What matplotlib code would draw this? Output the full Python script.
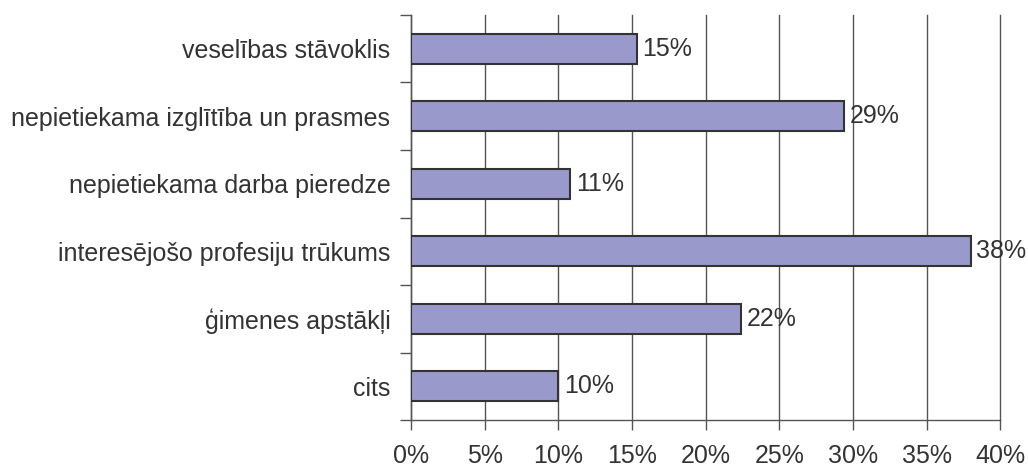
import matplotlib.pyplot as plt
import matplotlib.ticker as mtick
import numpy as np

plt.rcParams['font.family'] = ['Liberation Sans', 'DejaVu Sans']

categories = ['veselības stāvoklis', 'nepietiekama izglītība un prasmes',
              'nepietiekama darba pieredze', 'interesējošo profesiju trūkums',
              'ģimenes apstākļi', 'cits']
values = [15.3, 29.4, 10.8, 38.0, 22.4, 10.0]
value_labels = ['15%', '29%', '11%', '38%', '22%', '10%']
xticks = [0, 5, 10, 15, 20, 25, 30, 35, 40]

text_color = '#333333'
fs = 18

fig = plt.figure(figsize=(10.28, 4.67), dpi=100)
ax = fig.add_axes([0.4, 0.1006, 0.5730, 0.8673])

y = np.arange(len(categories))
ax.barh(y, values, height=0.45, color='#9999CC', edgecolor='#333333',
        linewidth=1.5, zorder=3)

for yi, v, lab in zip(y, values, value_labels):
    ax.annotate(lab, (v, yi), xytext=(4, 0), textcoords='offset points',
                va='center', ha='left', fontsize=fs, color=text_color, zorder=4)

ax.set_ylim(len(categories) - 0.5, -0.5)
ax.set_xlim(0, 40)

ax.set_yticks(y)
ax.set_yticklabels(categories, fontsize=fs, color=text_color)
ax.tick_params(axis='y', which='major', length=0, pad=15)
ax.set_yticks(np.arange(-0.5, len(categories)), minor=True)
ax.tick_params(axis='y', which='minor', length=8, width=1, color='#555555')

ax.set_xticks(xticks)
ax.xaxis.set_major_formatter(mtick.FuncFormatter(lambda v, p: f'{v:.0f}%'))
ax.tick_params(axis='x', length=7, width=1, color='#555555',
               labelsize=fs, labelcolor=text_color, pad=10)

ax.grid(axis='x', color='#555555', linewidth=1, zorder=0)
for gl in ax.get_xgridlines():
    gl.set_clip_on(False)
ax.spines['top'].set_visible(False)
ax.spines['right'].set_visible(False)
for s in ['left', 'bottom']:
    ax.spines[s].set_color('#555555')
    ax.spines[s].set_linewidth(1)

fig.savefig('out.png', dpi=100)
